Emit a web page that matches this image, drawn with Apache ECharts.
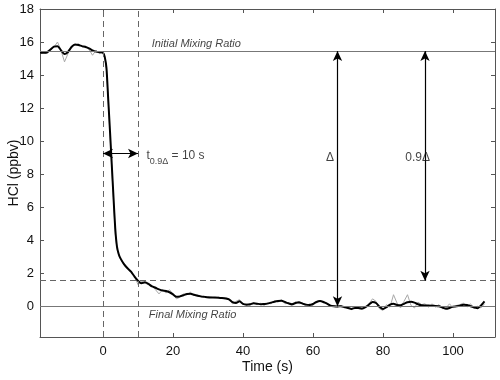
<!DOCTYPE html>
<html>
<head>
<meta charset="utf-8">
<script src="https://cdn.jsdelivr.net/npm/echarts@6/dist/echarts.min.js"></script>
<style>
  html, body { margin: 0; padding: 0; background: #fff; }
  #main { width: 500px; height: 380px; }
</style>
</head>
<body>
<div id="main"></div>
<script>
// time axis (s)
var timeS = [
  -18, -17, -16, -15, -14, -13, -12, -11, -10, -9, -8, -7, -6, -5, -4, -3, -2, -1,
  0, 0.5, 1, 1.5, 2, 2.5, 3, 3.5, 4, 4.5, 5,
  6, 7, 8, 9, 10, 11, 12, 13, 14, 15, 16, 17, 18, 19, 20,
  21, 22, 23, 24, 25, 26, 27, 28, 29, 30, 31, 32, 33, 34, 35, 36, 37, 38, 39, 40,
  41, 42, 43, 44, 45, 46, 47, 48, 49, 50, 51, 52, 53, 54, 55, 56, 57, 58, 59, 60,
  61, 62, 63, 64, 65, 66, 67, 68, 69, 70, 71, 72, 73, 74, 75, 76, 77, 78, 79, 80,
  81, 82, 83, 84, 85, 86, 87, 88, 89, 90, 91, 92, 93, 94, 95, 96, 97, 98, 99, 100,
  101, 102, 103, 104, 105, 106, 107, 108, 109
];
// smoothed HCl (black)
var hclSmooth = [
  15.35, 15.35, 15.38, 15.55, 15.72, 15.75, 15.5, 15.27, 15.4, 15.7, 15.85, 15.82, 15.75, 15.7, 15.62, 15.5, 15.42, 15.38,
  15.35, 15.1, 14.4, 12.5, 10.6, 8.6, 6.6, 4.7, 3.6, 3.15, 2.9,
  2.55, 2.3, 2.1, 1.8, 1.55, 1.4, 1.45, 1.35, 1.2, 1.12, 1.02, 0.95, 0.93, 0.85, 0.72,
  0.57, 0.6, 0.67, 0.74, 0.76, 0.7, 0.64, 0.6, 0.57, 0.54, 0.53, 0.53, 0.52, 0.5, 0.47, 0.42, 0.25, 0.2, 0.3, 0.14,
  0.1, 0.12, 0.18, 0.16, 0.12, 0.14, 0.16, 0.22, 0.28, 0.32, 0.34, 0.26, 0.18, 0.12, 0.2, 0.24, 0.16, 0.1, 0.08, 0.14,
  0.26, 0.32, 0.26, 0.16, 0.04, 0.0, -0.01, 0.0, -0.05, -0.1, -0.16, -0.1, -0.1, -0.14, -0.05, 0.1, 0.26, 0.2, -0.03, -0.17,
  -0.05, 0.1, 0.15, 0.08, 0.06, 0.15, 0.24, 0.27, 0.22, 0.12, 0.06, 0.05, 0.05, 0.03, 0.02, 0.0, -0.08, -0.15, -0.1, -0.02,
  0.0, 0.04, 0.1, 0.08, 0.0, -0.06, -0.12, 0.05, 0.3
];
// raw HCl (grey)
var hclRaw = [
  15.3, 15.35, 15.3, 15.5, 15.7, 16.0, 15.5, 14.8, 15.3, 15.75, 15.8, 15.9, 15.7, 15.75, 15.55, 15.2, 15.5, 15.3,
  15.4, 15.0, 14.3, 12.4, 10.4, 8.4, 6.4, 4.4, 3.5, 3.1, 2.85,
  2.5, 2.3, 2.05, 1.85, 1.3, 1.5, 1.4, 1.3, 1.25, 1.0, 0.75, 1.0, 0.8, 1.0, 0.75,
  0.45, 0.55, 0.75, 0.7, 0.85, 0.65, 0.7, 0.55, 0.6, 0.5, 0.55, 0.5, 0.55, 0.48, 0.52, 0.45, 0.15, 0.3, 0.4, 0.1,
  0.15, 0.05, 0.22, 0.1, 0.18, 0.05, 0.2, 0.15, 0.35, 0.25, 0.4, 0.15, 0.22, 0.05, 0.28, 0.15, 0.22, 0.0, 0.15, 0.05,
  0.3, 0.35, 0.2, 0.22, 0.0, 0.05, -0.05, 0.05, -0.1, -0.05, -0.2, -0.05, -0.15, -0.2, 0.0, 0.15, 0.45, 0.3, -0.15, -0.25,
  0.1, -0.05, 0.7, 0.2, -0.1, 0.3, 0.7, 0.05, -0.1, 0.25, 0.1, 0.15, -0.05, 0.15, -0.05, 0.1, -0.15, -0.1, 0.15, -0.1,
  0.05, 0.1, 0.2, -0.05, 0.15, -0.15, 0.0, -0.1, 0.15
];
var xTicks = [0, 20, 40, 60, 80, 100];
var yTicks = [0, 2, 4, 6, 8, 10, 12, 14, 16, 18];

// reference levels
var initialRatio = 15.45;
var finalRatio = 0;
var level90 = 1.55;
var tStart = 0;
var tEnd = 10;

function pairs(xs, ys) {
  var out = [];
  for (var i = 0; i < xs.length; i++) out.push([xs[i], ys[i]]);
  return out;
}

var axisColor = '#555';
var font = '"Liberation Sans", Arial, sans-serif';

function xAx(pos, showLabel) {
  return {
    type: 'value', position: pos, min: -18, max: 112,
    name: showLabel ? 'Time (s)' : '', nameLocation: 'middle', nameGap: 23, nameMoveOverlap: false,
    nameTextStyle: { fontSize: 14, color: '#111', fontFamily: font },
    axisLine: { show: true, onZero: false, lineStyle: { color: axisColor, width: 1 } },
    axisTick: { show: true, inside: true, length: 4, customValues: xTicks, lineStyle: { color: axisColor } },
    axisLabel: { show: showLabel, customValues: xTicks, margin: 8, fontSize: 13, color: '#111', fontFamily: font },
    splitLine: { show: false }
  };
}
function yAx(pos, showLabel) {
  return {
    type: 'value', position: pos, min: -1.86, max: 18,
    name: showLabel ? 'HCl (ppbv)' : '', nameLocation: 'middle', nameGap: 19, nameMoveOverlap: false,
    nameTextStyle: { fontSize: 14, color: '#111', fontFamily: font },
    axisLine: { show: true, onZero: false, lineStyle: { color: axisColor, width: 1 } },
    axisTick: { show: true, inside: true, length: 4, customValues: yTicks, lineStyle: { color: axisColor } },
    axisLabel: { show: showLabel, customValues: yTicks, margin: 6, fontSize: 13, color: '#111', fontFamily: font },
    splitLine: { show: false }
  };
}

var chart = echarts.init(document.getElementById('main'), null, { renderer: 'canvas' });
var option = {
  backgroundColor: '#fff',
  animation: false,
  grid: { left: 40, right: 5, top: 9, bottom: 43, outerBoundsMode: 'none' },
  xAxis: [xAx('bottom', true), xAx('top', false)],
  yAxis: [yAx('left', true), yAx('right', false)],
  series: [
    {
      name: 'raw', type: 'line', showSymbol: false, z: 2,
      data: pairs(timeS, hclRaw),
      lineStyle: { color: '#a8a8a8', width: 1 }
    },
    {
      name: 'smooth', type: 'line', showSymbol: false, z: 3, smooth: 0.2,
      data: pairs(timeS, hclSmooth),
      lineStyle: { color: '#000', width: 2 },
      markLine: {
        silent: true, symbol: 'none', label: { show: false },
        lineStyle: { color: '#777', width: 1, type: 'solid' },
        data: [
          { yAxis: initialRatio },
          { yAxis: finalRatio },
          { yAxis: level90, lineStyle: { type: [6, 4], color: '#666' } },
          { xAxis: tStart, lineStyle: { type: [6, 4], color: '#666' } },
          { xAxis: tEnd, lineStyle: { type: [6, 4], color: '#666' } }
        ]
      }
    },
    {
      name: 'arrows', type: 'line', data: [], z: 4,
      markLine: {
        silent: true, symbol: ['arrow', 'arrow'], symbolSize: [7, 10],
        label: { show: false },
        lineStyle: { color: '#000', width: 1.2, type: 'solid' },
        data: [
          [{ coord: [67, initialRatio] }, { coord: [67, finalRatio] }],
          [{ coord: [92, initialRatio] }, { coord: [92, level90] }],
          [{ coord: [tStart, 9.25] }, { coord: [tEnd, 9.25] }]
        ]
      }
    },
    {
      name: 'notes', type: 'scatter', symbolSize: 0, z: 5, silent: true,
      label: { show: true, color: '#111', fontFamily: font },
      data: [
        { value: [13.9, 15.9], label: { formatter: 'Initial Mixing Ratio', position: 'right', distance: 0, fontStyle: 'italic', fontSize: 11 } },
        { value: [13.1, -0.55], label: { formatter: 'Final Mixing Ratio', position: 'right', distance: 0, fontStyle: 'italic', fontSize: 11 } },
        { value: [66, 9.0], label: { formatter: '\u0394', position: 'left', distance: 0, fontSize: 12 } },
        { value: [93.4, 9.0], label: { formatter: '0.9\u0394', position: 'left', distance: 0, fontSize: 12 } },
        { value: [12.4, 9.0], label: {
          position: 'right', distance: 0,
          formatter: '{a|t}{b|0.9\u0394}{a| = 10 s}',
          rich: {
            a: { fontSize: 12, color: '#111', fontFamily: font, verticalAlign: 'bottom', padding: [0, 0, 4, 0] },
            b: { fontSize: 9, color: '#111', fontFamily: font, verticalAlign: 'bottom' }
          }
        } }
      ]
    }
  ]
};
chart.setOption(option);
</script>
</body>
</html>
